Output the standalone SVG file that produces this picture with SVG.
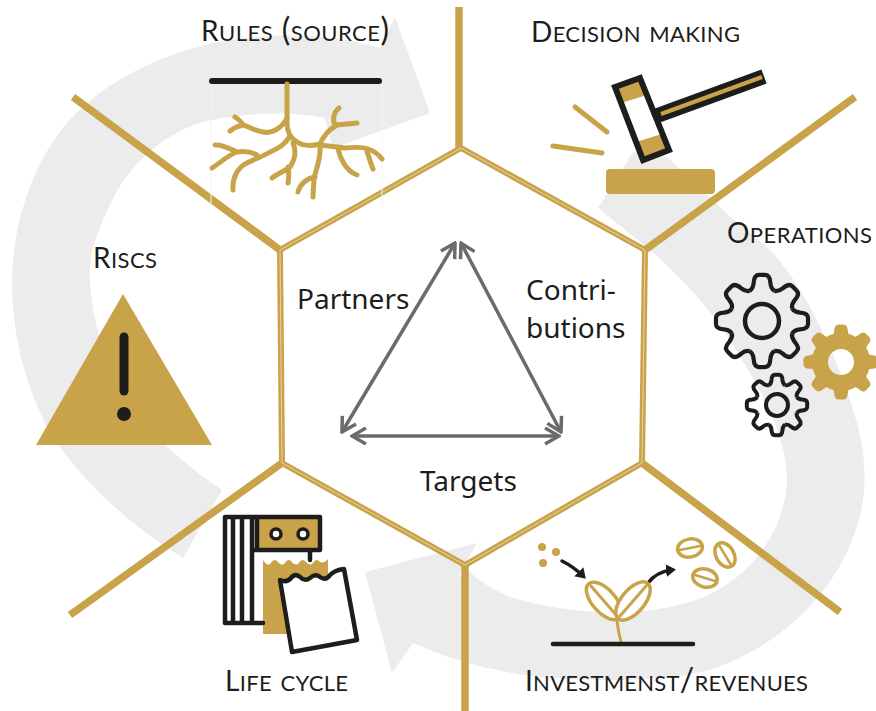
<svg xmlns="http://www.w3.org/2000/svg" xmlns:xlink="http://www.w3.org/1999/xlink" width="876" height="711" viewBox="0 0 876 711">
<style>
.lbl{font-family:"Lato","Liberation Sans",sans-serif;font-variant:small-caps;font-size:32px;fill:#1d1d1b}
.lbl .c{font-size:28px;font-variant:normal}
.ctr{font-family:"Noto Sans","Liberation Sans",sans-serif;font-size:28px;fill:#1d1d1b}
.g{fill:none;stroke:#c9a349;stroke-linecap:round;stroke-linejoin:round}
.k{fill:none;stroke:#1d1d1b;stroke-linecap:round;stroke-linejoin:round}
.hex{fill:none;stroke:#c9a349;stroke-width:6;stroke-linejoin:miter}
.hexin{fill:none;stroke:#e6d3a4;stroke-width:1}
.spoke{stroke:#c9a349;stroke-width:7.5;stroke-linecap:butt}
.tri{stroke:#6b6b6b;stroke-width:3.5;fill:none;marker-start:url(#open);marker-end:url(#open)}
.bean{fill:#fff;stroke:#c9a349;stroke-width:3.5}
</style>
<defs>
<marker id="open" viewBox="-17 -10 19 20" refX="0" refY="0" markerUnits="userSpaceOnUse" markerWidth="19" markerHeight="20" orient="auto-start-reverse">
<path d="M-14 -8 L0 0 L-14 8" fill="none" stroke="#6b6b6b" stroke-width="3.500"/>
</marker>
<marker id="ah" viewBox="-9 -7 11 14" refX="-3" refY="0" markerUnits="userSpaceOnUse" markerWidth="11" markerHeight="14" orient="auto">
<path d="M-9 -6.5 L1 0 L-9 6.5 Z" fill="#1d1d1b"/>
</marker>
<path id="t" d="M-26.8 -64.7Q-19 -70 -18 -82Q-17 -99 -6 -99H6Q17 -99 18 -82Q19 -70 26.8 -64.7"/>
<g id="gear">
<use href="#t"/>
<use href="#t" transform="rotate(45)"/>
<use href="#t" transform="rotate(90)"/>
<use href="#t" transform="rotate(135)"/>
<use href="#t" transform="rotate(180)"/>
<use href="#t" transform="rotate(225)"/>
<use href="#t" transform="rotate(270)"/>
<use href="#t" transform="rotate(315)"/>
</g>
</defs>
<rect width="876" height="711" fill="#fff"/>
<g id="cycle" fill="#ececec">
<path d="M183 558 C130 525 85 485 50 433 C25 385 12 335 12 280 C13 220 35 160 67 123 C105 80 160 55 213 43 C270 32 330 33 380 48 L395 17 L430 113 L333 148 L325 118 C290 111 240 112 200 123 C160 135 125 170 110 205 C95 235 88 260 90 280 C92 320 105 365 125 395 C150 435 185 465 222 490 Z"/>
<path d="M633 152 L598 208 L650 250 C690 285 720 320 745 365 C770 405 787 445 787 480 C785 535 745 585 690 602 C630 620 560 612 510 597 C495 590 480 582 470 572 L458 577 L477 543 L365 572 L392 673 L413 643 C450 660 495 672 540 677 C590 682 660 682 710 670 C770 650 825 605 850 545 C868 505 868 465 857 423 C845 380 815 300 773 253 C757 238 740 225 723 210 L667 157 Z"/>
</g>
<g id="connectors">
<path class="spoke" d="M459 7V148M645 250L855 97M642 463L840 612M465 565V711M282 463L70 615M280 250L73 97"/>
<path class="hex" d="M461 148L645 250L642 463L465 565L282 463L280 250Z"/>
<path class="hexin" d="M461 148L645 250L642 463L465 565L282 463L280 250Z"/>
<line class="tri" x1="455" y1="243" x2="342" y2="432"/>
<line class="tri" x1="461" y1="243" x2="561" y2="432"/>
<line class="tri" x1="352" y1="436" x2="559" y2="436"/>
</g>
<g id="center-labels">
<text class="ctr" x="297" y="309">Partners</text>
<text class="ctr" x="526" y="300">Contri-</text>
<text class="ctr" x="526" y="338">butions</text>
<text class="ctr" x="420" y="491">Targets</text>
</g>
<g id="rules">
<path d="M211 85V205M382 85V205" stroke="#f4f4f4" stroke-width="1" fill="none"/>
<line class="k" x1="212" y1="81" x2="379" y2="81" stroke-width="6"/>
<path class="g" stroke-width="5" d="M287 84V123C287 132 290 138 297 142C303 146 312 146 320 144C323 137 328 130 337 125C345 124 351 124 357 123M335 125C332 119 334 112 339 108M320 145C330 146 338 147 345 148C355 147 363 147 368 149C374 151 379 155 382 159M367 151C369 158 371 164 373 169M338 149C340 158 346 171 357 175M320 147C321 158 316 170 314 178C314 184 313 190 313 197M315 177C307 178 300 184 298 192"/>
<path class="g" stroke-width="5" d="M287 118C282 128 272 134 263 132C255 131 250 127 243 125C238 126 234 128 230 131M243 125C241 121 238 119 235 117M290 136C285 145 278 148 270 152C262 157 252 160 247 163C238 167 232 178 233 190M257 155C250 151 244 151 237 152C230 149 222 144 215 145M237 152C228 155 220 163 212 168M293 143C296 150 296 158 290 167C283 172 277 174 272 178M288 167C289 173 289 178 288 183"/>
<text class="lbl" x="201" y="41" textLength="188"><tspan class="c">R</tspan>ules (source)</text>
</g>
<g id="decision">
<line x1="652" y1="117.500" x2="764" y2="76.500" stroke="#1d1d1b" stroke-width="15"/>
<line x1="661" y1="114" x2="762" y2="77" stroke="#c9a349" stroke-width="4"/>
<path d="M615 87L640 78L669 150L643 160Z" fill="#fff"/>
<path d="M615 87L640 78L647 95L621 103ZM636 142L662 134L669 150L643 160Z" fill="#c9a349"/>
<path d="M615 87L640 78L669 150L643 160Z" fill="none" stroke="#1d1d1b" stroke-width="6" stroke-linejoin="miter"/>
<path class="g" stroke-width="5" d="M575 107L607 132M553 146L602 153"/>
<rect x="606" y="169" width="109" height="25" rx="4" fill="#c9a349"/>
<text class="lbl" x="531" y="42" textLength="209"><tspan class="c">D</tspan>ecision making</text>
</g>
<g id="operations">
<use href="#gear" transform="translate(762 321) scale(.465)" fill="none" stroke="#1d1d1b" stroke-width="9" stroke-linejoin="round"/>
<circle cx="762" cy="321" r="17" fill="none" stroke="#1d1d1b" stroke-width="4.500"/>
<use href="#gear" transform="translate(777 405) scale(.305)" fill="none" stroke="#1d1d1b" stroke-width="13" stroke-linejoin="round"/>
<circle cx="777" cy="405" r="11" fill="none" stroke="#1d1d1b" stroke-width="4"/>
<use href="#gear" transform="translate(841 362) scale(.38)" fill="#c9a349"/>
<circle cx="841" cy="362" r="21" fill="none" stroke="#c9a349" stroke-width="16"/>
<text class="lbl" x="727" y="243" textLength="145"><tspan class="c">O</tspan>perations</text>
</g>
<g id="riscs">
<path d="M123 294L212 445L36 445Z" fill="#c9a349"/>
<line class="k" x1="124" y1="337" x2="124" y2="391" stroke-width="9"/>
<circle cx="124" cy="414" r="7" fill="#1d1d1b"/>
<text class="lbl" x="93" y="268" textLength="64"><tspan class="c">R</tspan>iscs</text>
</g>
<g id="lifecycle">
<path d="M263 560Q267 566 270 564Q274 558 277 561Q281 566 284 564Q288 558 291 561Q295 566 298 564Q302 558 305 561Q309 566 312 564Q316 558 319 561Q323 565 328 559V600L300 634H263Z" fill="#c9a349"/>
<rect x="257" y="519" width="63" height="31" fill="#c9a349"/>
<path class="k" stroke-width="4.500" d="M225 623V517H320V550H252M233 517V623M242 517V623M252 517V623M257 517V550M225 623H263M310 550V560"/>
<circle cx="276" cy="534" r="5" fill="#fff" stroke="#1d1d1b" stroke-width="3.500"/>
<circle cx="303" cy="534" r="5" fill="#fff" stroke="#1d1d1b" stroke-width="3.500"/>
<path d="M280 580Q287 583 291 578Q295 573 300 577Q305 582 310 578Q315 573 320 577Q326 581 330 575Q335 570 344 569L357 640L292 652Z" fill="#fff" stroke="#1d1d1b" stroke-width="4.500" stroke-linejoin="round"/>
<text class="lbl" x="225" y="691" textLength="123"><tspan class="c">L</tspan>ife cycle</text>
</g>
<g id="investment">
<circle cx="542" cy="547" r="4" fill="#c9a349"/>
<circle cx="556" cy="552" r="4" fill="#c9a349"/>
<circle cx="543" cy="563" r="4" fill="#c9a349"/>
<path d="M562 561C570 565 578 571 583 576" fill="none" stroke="#1d1d1b" stroke-width="3.500" stroke-linecap="round" marker-end="url(#ah)"/>
<path d="M648 583C654 575 662 571 672 570" fill="none" stroke="#1d1d1b" stroke-width="3.500" stroke-linecap="round" marker-end="url(#ah)"/>
<ellipse class="bean" cx="604" cy="601" rx="23" ry="11.500" transform="rotate(48 604 601)"/>
<ellipse class="bean" cx="633" cy="601" rx="23" ry="11.500" transform="rotate(-50 633 601)"/>
<path class="g" stroke-width="3" d="M591 586L617 616M647 585L620 616M621 642C619 633 617 626 617 618"/>
<ellipse class="bean" cx="690" cy="548" rx="12.500" ry="9" transform="rotate(-10 690 548)"/>
<ellipse class="bean" cx="725" cy="555" rx="13" ry="9" transform="rotate(60 725 555)"/>
<ellipse class="bean" cx="705" cy="578" rx="12.500" ry="9" transform="rotate(15 705 578)"/>
<path class="g" stroke-width="2.500" d="M680 550L700 546M719 545L731 565M695 575L715 581"/>
<line class="k" x1="553" y1="644" x2="693" y2="644" stroke-width="4.500"/>
<text class="lbl" x="525" y="691" textLength="283"><tspan class="c">I</tspan>nvestmenst/revenues</text>
</g>
</svg>
